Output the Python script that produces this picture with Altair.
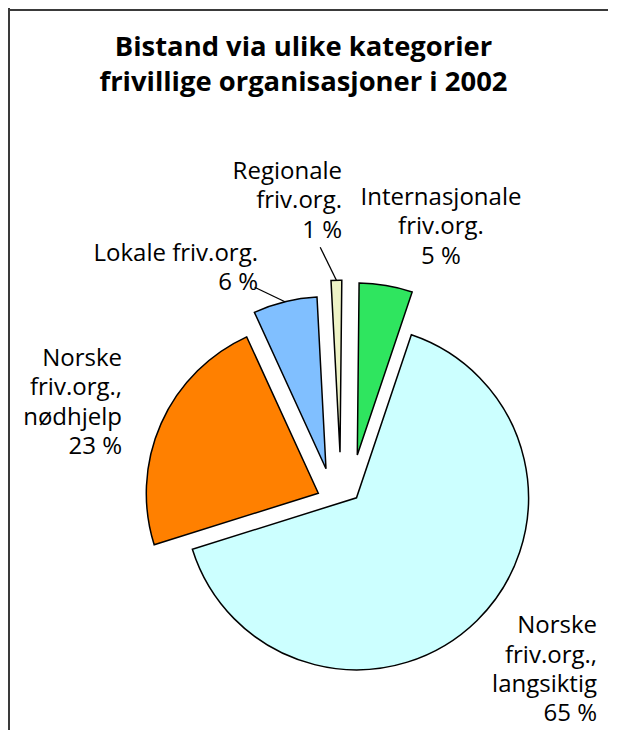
import math
import altair as alt
import pandas as pd

# ---------------- data ----------------
categories = [
    "Internasjonale friv.org.",
    "Norske friv.org., langsiktig",
    "Norske friv.org., nødhjelp",
    "Lokale friv.org.",
    "Regionale friv.org.",
]
shares = [5, 65, 23, 6, 1]
label_names = [
    ["Internasjonale", "friv.org."],
    ["Norske", "friv.org.,", "langsiktig"],
    ["Norske", "friv.org.,", "nødhjelp"],
    ["Lokale friv.org."],
    ["Regionale", "friv.org."],
]
title_lines = ["Bistand via ulike kategorier", "frivillige organisasjoner i 2002"]

# ---------------- style / layout ----------------
colors = ["#2FE55F", "#CCFFFF", "#FF8000", "#80BFFF", "#EEF3C6"]
FONT = "Open Sans"
W, H = 600, 722
PIE_X, PIE_Y = 348.5, 489.8          # pie centre (px)
RADIUS = 172
START_DEG = 0.6
EXPLODE_DX = [0.8, 0, -38.2, -30.5, -16.5]   # slice pull-out (px)
EXPLODE_DY = [-42.8, 0, -4.5, -29, -45.6]
LEADER_DX = [0, 0, 0, -30.3, -16.2]          # leader line from slice edge (px)
LEADER_DY = [0, 0, 0, -14.5, -33]
LABEL_X = [433, 589, 114, 250, 334]
LABEL_Y = [197, 625.3, 358, 252.5, 171]
LABEL_ALIGN = ["center", "right", "right", "right", "right"]
LAST_LINE_PAD = ["", "", "", "\u00a0\u00a0\u2009", ""]
LINE_H = 29.4

start = math.radians(START_DEG)

pie_df = pd.DataFrame({
    "category": categories,
    "share": shares,
    "idx": list(range(len(categories))),
    "edx": EXPLODE_DX,
    "edy": EXPLODE_DY,
    "ldx": LEADER_DX,
    "ldy": LEADER_DY,
})

base = (
    alt.Chart(pie_df)
    .transform_joinaggregate(total="sum(share)")
    .transform_window(cum="sum(share)", sort=[alt.SortField("idx")], frame=[None, 0])
    .transform_calculate(a0=f"{start} + 2*PI*(datum.cum - datum.share)/datum.total")
    .transform_calculate(a1=f"{start} + 2*PI*datum.cum/datum.total")
    .transform_calculate(cx=f"{PIE_X} + datum.edx")
    .transform_calculate(cy=f"{PIE_Y} + datum.edy")
    .transform_calculate(mid="(datum.a0 + datum.a1)/2")
    .transform_calculate(ex=f"datum.cx + {RADIUS}*sin(datum.mid)")
    .transform_calculate(ey=f"datum.cy - {RADIUS}*cos(datum.mid)")
    .transform_calculate(sx="datum.ex + datum.ldx")
    .transform_calculate(sy="datum.ey + datum.ldy")
)

arcs = base.mark_arc(radius=RADIUS, stroke="black", strokeWidth=1.5).encode(
    theta=alt.Theta("a0:Q", scale=None, stack=False),
    theta2=alt.Theta2("a1:Q"),
    x=alt.X("cx:Q", scale=None, stack=False),
    y=alt.Y("cy:Q", scale=None, stack=False),
    color=alt.Color("category:N", scale=alt.Scale(domain=categories, range=colors), legend=None),
)

leaders = base.transform_filter("datum.ldx != 0 || datum.ldy != 0").mark_rule(
    color="black", strokeWidth=1.3
).encode(
    x=alt.X("ex:Q", scale=None),
    y=alt.Y("ey:Q", scale=None),
    x2="sx:Q",
    y2="sy:Q",
)

rows = []
for i, (names, v) in enumerate(zip(label_names, shares)):
    lines = names + [f"{v} %{LAST_LINE_PAD[i]}"]
    rows.append({
        "text": "\n".join(lines),
        "x": LABEL_X[i],
        "y": LABEL_Y[i],
        "align": LABEL_ALIGN[i],
    })
lab_df = pd.DataFrame(rows)


def label_layer(al):
    return alt.Chart(lab_df).transform_filter(f"datum.align == '{al}'").mark_text(
        align=al, baseline="alphabetic", font=FONT, fontSize=24, color="black",
        lineBreak="\n", lineHeight=LINE_H
    ).encode(
        x=alt.X("x:Q", scale=None),
        y=alt.Y("y:Q", scale=None),
        text="text:N",
    )


title = alt.Chart(pd.DataFrame({"t": ["\n".join(title_lines)]})).mark_text(
    align="center", baseline="alphabetic", font=FONT, fontSize=27.4, fontWeight="bold",
    lineBreak="\n", lineHeight=35, color="black"
).encode(x=alt.value(295.5), y=alt.value(48), text="t:N")

# frame (top and left edges of the original figure box), drawn as thin filled bars
frame_df = pd.DataFrame({"x0": [0, 0], "y0": [0, 1], "x1": [2, W], "y1": [H, 3]})
frame = alt.Chart(frame_df).mark_rect(color="#3a3a3a", strokeWidth=0).encode(
    x=alt.X("x0:Q", scale=None),
    y=alt.Y("y0:Q", scale=None),
    x2="x1:Q",
    y2="y1:Q",
)

chart = alt.layer(
    frame, arcs, leaders, label_layer("right"), label_layer("center"), title
).properties(
    width=W, height=H, padding=0, autosize=alt.AutoSizeParams(type="none")
).configure_view(strokeWidth=0, stroke="transparent")

chart.save("out.html", embed_options={"renderer": "svg", "actions": False})
